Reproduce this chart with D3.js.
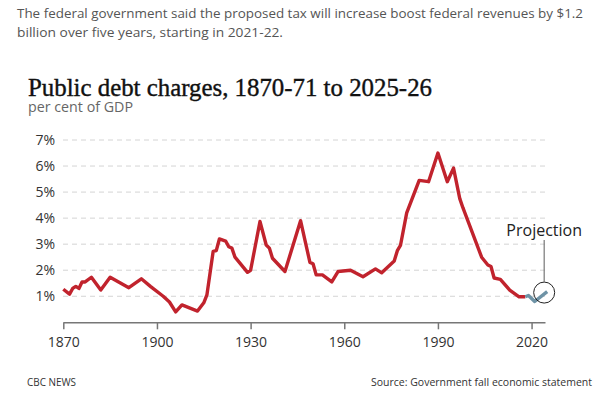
<!DOCTYPE html>
<html>
<head>
<meta charset="utf-8">
<script src="https://cdn.jsdelivr.net/npm/d3@7"></script>
<style>
  body { margin: 0; background: #fff; }
  svg { display: block; font-family: "Open Sans", sans-serif; }
</style>
</head>
<body>
<svg width="614" height="399"></svg>
<script>

// values (fiscal year start, % of GDP)
const years = [1870, 1872, 1873, 1874, 1875, 1876, 1877, 1879, 1882, 1885, 1891, 1895, 1898,
    1902, 1904, 1906, 1908, 1913, 1915, 1916, 1918, 1919, 1920, 1922, 1923, 1924, 1925,
    1929, 1930, 1933, 1935, 1936, 1937, 1941, 1946, 1949, 1950, 1951, 1953, 1956, 1958,
    1962, 1966, 1970, 1972, 1976, 1977, 1978, 1980, 1984, 1987, 1990, 1993, 1995, 1997,
    1998, 2004, 2006, 2007, 2008, 2010, 2013, 2016, 2018];
const debt = [1.27, 1.08, 1.3, 1.38, 1.3, 1.55, 1.55, 1.73, 1.24, 1.73, 1.33, 1.67, 1.37,
    1.0, 0.78, 0.4, 0.67, 0.43, 0.75, 1.05, 2.72, 2.75, 3.2, 3.12, 2.9, 2.85, 2.5,
    1.92, 2.0, 3.87, 2.97, 2.85, 2.46, 1.95, 3.9, 2.3, 2.25, 1.82, 1.82, 1.55, 1.95,
    2.0, 1.75, 2.05, 1.9, 2.35, 2.75, 2.95, 4.2, 5.45, 5.4, 6.5, 5.4, 5.92, 4.75,
    4.4, 2.5, 2.2, 2.14, 1.7, 1.65, 1.24, 0.98, 0.98];

const projYears = [2018, 2019, 2021, 2025];
const projDebt = [0.98, 1.03, 0.8, 1.18];

const xTicks = [1870, 1900, 1930, 1960, 1990, 2020];
const yTicks = [1, 2, 3, 4, 5, 6, 7];

const svg = d3.select("svg");

// intro text above the chart
svg.append("text").attr("x", 17).attr("y", 18)
    .attr("font-size", 12.5).attr("fill", "#555")
    .attr("textLength", 566).attr("lengthAdjust", "spacingAndGlyphs")
    .text("The federal government said the proposed tax will increase boost federal revenues by $1.2");
svg.append("text").attr("x", 17).attr("y", 37)
    .attr("font-size", 12.5).attr("fill", "#555")
    .attr("textLength", 266).attr("lengthAdjust", "spacingAndGlyphs")
    .text("billion over five years, starting in 2021-22.");

// title
svg.append("text").attr("x", 28).attr("y", 96)
    .attr("font-family", "Liberation Serif, serif")
    .attr("font-size", 26).attr("fill", "#111")
    .attr("stroke", "#111").attr("stroke-width", 0.4)
    .attr("textLength", 404).attr("lengthAdjust", "spacingAndGlyphs")
    .text("Public debt charges, 1870-71 to 2025-26");
svg.append("text").attr("x", 28).attr("y", 112)
    .attr("font-size", 14).attr("fill", "#666")
    .attr("textLength", 105).attr("lengthAdjust", "spacingAndGlyphs")
    .text("per cent of GDP");

const x = d3.scaleLinear().domain([1870, 2024.3]).range([63.3, 545]);
const y = d3.scaleLinear().domain([0, 7]).range([322.3, 140]);

// gridlines
svg.append("g")
    .selectAll("line")
    .data(yTicks)
    .join("line")
    .attr("x1", 63).attr("x2", 545)
    .attr("y1", d => y(d)).attr("y2", d => y(d))
    .attr("stroke", "#d4d4d4").attr("stroke-dasharray", "5,4");

// y labels
const yAxis = svg.append("g")
    .attr("transform", "translate(63,0)")
    .call(d3.axisLeft(y).tickValues(yTicks).tickSize(0).tickPadding(8).tickFormat(d => d + "%"));
yAxis.select(".domain").remove();
yAxis.selectAll("text").attr("font-size", 14).attr("fill", "#333").attr("font-family", "Open Sans");

// x axis
const xAxis = svg.append("g")
    .attr("transform", "translate(0,322.3)")
    .call(d3.axisBottom(x).tickValues(xTicks).tickSize(7).tickSizeOuter(0).tickPadding(7.5).tickFormat(d3.format("d")));
xAxis.select(".domain").attr("stroke", "#777").attr("stroke-width", 1.5);
xAxis.selectAll(".tick line").attr("stroke", "#777").attr("stroke-width", 1.5);
xAxis.selectAll("text").attr("font-size", 14).attr("fill", "#333").attr("font-family", "Open Sans");

const line = d3.line()
    .x(d => x(d[0]))
    .y(d => y(d[1]));

svg.append("path")
    .datum(years.map((yr, i) => [yr, debt[i]]))
    .attr("d", line)
    .attr("fill", "none")
    .attr("stroke", "#c1232d")
    .attr("stroke-width", 3.4)
    .attr("stroke-linejoin", "round");

svg.append("path")
    .datum(projYears.map((yr, i) => [yr, projDebt[i]]))
    .attr("d", line)
    .attr("fill", "none")
    .attr("stroke", "#6e93a6")
    .attr("stroke-width", 3.4)
    .attr("stroke-linejoin", "round");

// projection callout
const cx = x(projYears[projYears.length - 1]) - 3;
const cy = y(projDebt[projDebt.length - 1]) + 1;
svg.append("circle")
    .attr("cx", cx).attr("cy", cy).attr("r", 10.5)
    .attr("fill", "none").attr("stroke", "#222").attr("stroke-width", 1);
svg.append("line")
    .attr("x1", cx).attr("x2", cx)
    .attr("y1", cy - 10.5).attr("y2", 240)
    .attr("stroke", "#777").attr("stroke-width", 1.2);
svg.append("text")
    .attr("x", cx).attr("y", 236)
    .attr("text-anchor", "middle")
    .attr("font-size", 16).attr("fill", "#222")
    .text("Projection");

// footer
svg.append("text").attr("x", 27).attr("y", 386)
    .attr("font-size", 11).attr("fill", "#333")
    .attr("textLength", 49).attr("lengthAdjust", "spacingAndGlyphs")
    .text("CBC NEWS");
svg.append("text").attr("x", 371).attr("y", 386)
    .attr("font-size", 11).attr("fill", "#333")
    .attr("textLength", 221).attr("lengthAdjust", "spacingAndGlyphs")
    .text("Source: Government fall economic statement");

</script>
</body>
</html>
